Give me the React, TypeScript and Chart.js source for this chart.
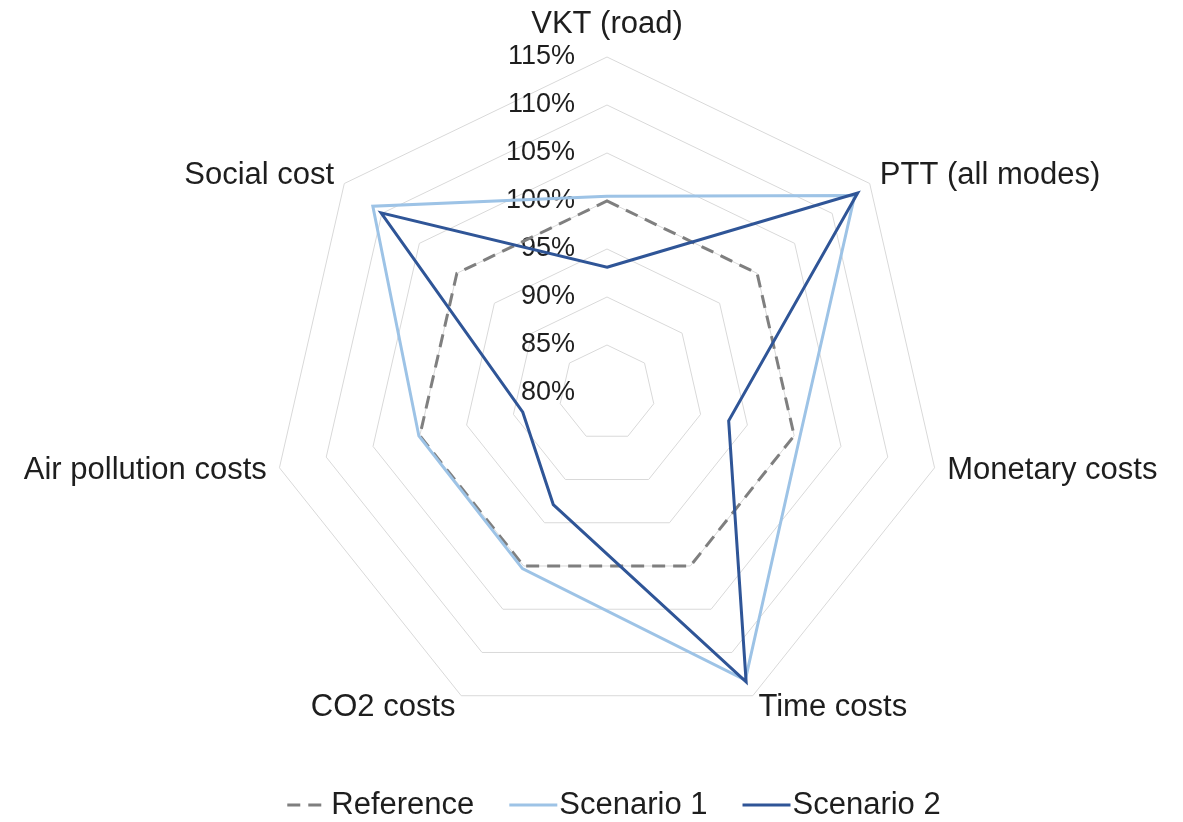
import React, { useEffect, useRef } from "react";
import { Chart, registerables } from "chart.js";

Chart.register(...registerables);

// ---- Data ----
const categories = [
  "VKT (road)",
  "PTT (all modes)",
  "Monetary costs",
  "Time costs",
  "CO2 costs",
  "Air pollution costs",
  "Social cost",
];
const seriesNames = ["Reference", "Scenario 1", "Scenario 2"];
const referenceValues = [100, 100, 100, 100, 100, 100, 100];
const scenario1Values = [100.5, 113.0, 100.6, 113.2, 100.3, 100.1, 111.2];
const scenario2Values = [93.1, 113.4, 93.0, 113.4, 92.9, 89.0, 110.1];
const axisMin = 80;
const axisMax = 115;
const axisStep = 5;

// ---- Styles ----
const FONT = "'Liberation Sans', Arial, Helvetica, sans-serif";
const TEXT_COLOR = "#1e1e1e";
const GRID_COLOR = "#d9d9d9";
const REF_COLOR = "#7f7f7f";
const S1_COLOR = "#9dc3e6";
const S2_COLOR = "#2f5597";

const customPlugin = {
  id: "customRadarText",
  beforeDatasetsDraw(chart: any) {
    const scale = chart.scales.r;
    const ctx = chart.ctx as CanvasRenderingContext2D;
    ctx.save();
    // tick labels (left of vertical axis)
    ctx.font = `27px ${FONT}`;
    ctx.fillStyle = TEXT_COLOR;
    ctx.textAlign = "right";
    ctx.textBaseline = "middle";
    scale.ticks.forEach((t: any) => {
      const d = scale.getDistanceFromCenterForValue(t.value);
      ctx.fillText(`${Math.round(t.value)}%`, scale.xCenter - 32, scale.yCenter - d);
    });
    // point labels
    ctx.font = `31px ${FONT}`;
    const labels = chart.data.labels as string[];
    labels.forEach((label, i) => {
      const p = scale.getPointPosition(i, scale.drawingArea + 13);
      const a = scale.getIndexAngle(i);
      const s = Math.sin(a);
      if (Math.abs(s) < 0.05) {
        ctx.textAlign = "center";
        ctx.textBaseline = "alphabetic";
        ctx.fillText(label, p.x, p.y - 11);
      } else {
        ctx.textAlign = s > 0 ? "left" : "right";
        ctx.textBaseline = "middle";
        ctx.fillText(label, p.x, p.y);
      }
    });
    ctx.restore();
  },
  afterDraw(chart: any) {
    const scale = chart.scales.r;
    const ctx = chart.ctx as CanvasRenderingContext2D;
    ctx.save();
    ctx.font = `31px ${FONT}`;
    const symW = 48;
    const symGap = 2;
    const itemGap = 35;
    const items = chart.data.datasets.map((ds: any) => ({
      text: ds.label as string,
      color: ds.borderColor as string,
      dash: (ds.borderDash || []) as number[],
      width: ds.borderWidth as number,
    }));
    const widths = items.map((it: any) => symW + symGap + ctx.measureText(it.text).width);
    const total = widths.reduce((a: number, b: number) => a + b, 0) + itemGap * (items.length - 1);
    let x = scale.xCenter + 4 - total / 2;
    const y = 805;
    items.forEach((it: any, i: number) => {
      ctx.beginPath();
      ctx.setLineDash(it.dash);
      ctx.lineDashOffset = 0;
      ctx.strokeStyle = it.color;
      ctx.lineWidth = it.width;
      const start = it.dash.length ? x + 6 : x;
      ctx.moveTo(start, y);
      ctx.lineTo(it.dash.length ? start + 34 : x + symW, y);
      ctx.stroke();
      ctx.setLineDash([]);
      ctx.fillStyle = TEXT_COLOR;
      ctx.textAlign = "left";
      ctx.textBaseline = "middle";
      ctx.fillText(it.text, x + symW + symGap, y);
      x += widths[i] + itemGap;
    });
    ctx.restore();
  },
};

export default function App() {
  const canvasRef = useRef<HTMLCanvasElement | null>(null);

  useEffect(() => {
    if (!canvasRef.current) return;
    const chart = new Chart(canvasRef.current, {
      type: "radar",
      data: {
        labels: categories,
        datasets: [
          {
            label: seriesNames[0],
            data: referenceValues,
            borderColor: REF_COLOR,
            borderWidth: 3,
            borderDash: [13, 8],
            pointRadius: 0,
            fill: false,
            order: 2,
          },
          {
            label: seriesNames[1],
            data: scenario1Values,
            borderColor: S1_COLOR,
            borderWidth: 3,
            pointRadius: 0,
            fill: false,
            order: 1,
          },
          {
            label: seriesNames[2],
            data: scenario2Values,
            borderColor: S2_COLOR,
            borderWidth: 3,
            pointRadius: 0,
            fill: false,
            order: 0,
          },
        ],
      },
      options: {
        responsive: false,
        animation: false,
        layout: { padding: { left: 271, right: 240, top: 57, bottom: 93 } },
        elements: { line: { tension: 0, borderJoinStyle: "miter" } },
        plugins: {
          legend: { display: false },
          tooltip: { enabled: false },
        },
        scales: {
          r: {
            min: axisMin,
            max: axisMax,
            ticks: { stepSize: axisStep, display: false },
            grid: { color: GRID_COLOR, lineWidth: 1 },
            angleLines: { display: false },
            pointLabels: { display: false },
          },
        },
      },
      plugins: [customPlugin],
    } as any);
    return () => chart.destroy();
  }, []);

  return (
    <div style={{ position: "fixed", left: 0, top: 0, width: 1183, height: 822, background: "#fff" }}>
      <canvas ref={canvasRef} width={1183} height={822} style={{ display: "block" }} />
    </div>
  );
}
